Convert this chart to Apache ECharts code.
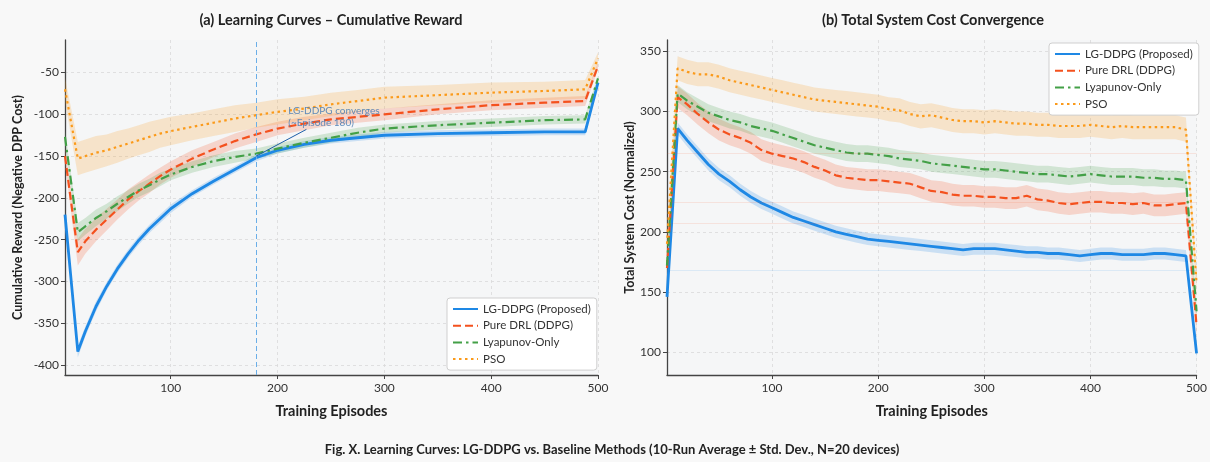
<!DOCTYPE html>
<html>
<head>
<meta charset="utf-8">
<script src="https://cdn.jsdelivr.net/npm/echarts@6/dist/echarts.min.js"></script>
<style>
  html, body { margin: 0; padding: 0; background: #f8f8f8; }
  #main { width: 1210px; height: 462px; }
</style>
</head>
<body>
<div id="main"></div>
<script>
// method names (legend order)
const methods = ["LG-DDPG (Proposed)", "Pure DRL (DDPG)", "Lyapunov-Only", "PSO"];

// (a) cumulative reward, episodes
const rewardEpisodes = [1, 13, 20, 30, 40, 50, 60, 70, 80, 90, 100, 120, 140, 160, 180, 200, 225, 250, 275, 300, 350, 400, 450, 488, 500];
const rewardLG   = [-220, -384, -360, -330, -306, -285, -267, -251, -237, -225, -213, -195, -180, -166, -152, -143, -136, -131, -128, -125, -123, -122, -121, -121, -62];
const rewardDRL  = [-150, -265, -252, -238, -226, -214, -202, -192, -183, -174, -166, -153, -142, -132, -124, -117, -111, -106, -103, -100, -94, -89, -86, -84, -42];
const rewardLyap = [-127, -241, -234, -224, -216, -207, -199, -191, -185, -178, -172, -163, -156, -151, -147, -141, -134, -128, -122, -117, -113, -110, -107, -106, -57];
const rewardPSO  = [-70, -153, -150, -146, -143, -139, -135, -131, -127, -123, -120, -115, -110, -105, -101, -97, -93, -88, -84, -80, -77, -74, -72, -70, -33];
// std dev of the 10 runs
const rewardStdLG   = [5, 7, 6, 6, 5, 5, 5, 5, 5, 5, 5, 4, 4, 4, 4, 4, 4, 4, 4, 4, 4, 4, 4, 4, 3];
const rewardStdDRL  = [10, 16, 15, 14, 13, 12, 12, 11, 11, 10, 10, 10, 9, 9, 9, 8, 8, 7, 7, 7, 6, 6, 6, 6, 4];
const rewardStdLyap = [8, 11, 10, 10, 9, 9, 8, 8, 8, 8, 7, 7, 7, 7, 6, 6, 6, 6, 6, 5, 5, 5, 5, 5, 3];
const rewardStdPSO  = [14, 20, 20, 20, 19, 19, 18, 18, 18, 17, 17, 16, 16, 16, 15, 15, 14, 14, 13, 13, 12, 12, 11, 11, 7];

// (b) total system cost, episodes
const costEpisodes = [1, 11, 20, 30, 40, 50, 60, 70, 80, 90, 100, 110, 120, 130, 140, 150, 160, 170, 180, 190, 200,
  210, 220, 230, 240, 250, 260, 270, 280, 290, 300, 310, 320, 330, 340, 350, 360, 370, 380, 390, 400,
  410, 420, 430, 440, 450, 460, 470, 480, 490, 500];
const costLG   = [146, 286, 276, 266, 256, 248, 242, 235, 229, 224, 220, 216, 212, 209, 206, 203, 200, 198, 196, 194, 193,
  192, 191, 190, 189, 188, 187, 186, 185, 186, 186, 186, 185, 184, 183, 183, 182, 182, 181, 180, 181,
  182, 182, 181, 181, 181, 182, 182, 181, 180, 99];
const costDRL  = [170, 312, 306, 298, 291, 285, 281, 278, 274, 268, 265, 263, 261, 258, 254, 251, 247, 245, 244, 243, 243,
  242, 241, 240, 237, 234, 233, 231, 230, 230, 229, 229, 228, 228, 230, 227, 226, 224, 223, 224, 225,
  225, 224, 224, 223, 224, 222, 222, 223, 224, 122];
const costLyap = [172, 315, 309, 304, 299, 296, 293, 291, 288, 286, 284, 281, 278, 275, 272, 270, 268, 266, 265, 265, 264,
  263, 261, 260, 259, 257, 256, 255, 254, 253, 252, 252, 251, 250, 249, 248, 248, 247, 246, 247, 248,
  247, 246, 246, 246, 245, 245, 244, 244, 243, 134];
const costPSO  = [190, 336, 333, 331, 331, 329, 326, 324, 322, 320, 318, 316, 314, 312, 310, 309, 308, 307, 306, 305, 304,
  302, 301, 298, 296, 297, 295, 293, 292, 292, 291, 292, 291, 290, 290, 289, 289, 288, 288, 288, 289,
  288, 287, 288, 287, 287, 287, 287, 287, 285, 157];
const costStd = [5, 9, 7, 10]; // per method, roughly constant

// faint reference levels in (b)
const costRefLevels = [265, 225, 207, 168];

// axis ticks
const xTicks = [100, 200, 300, 400, 500];
const rewardTicks = [-400, -350, -300, -250, -200, -150, -100, -50];
const costTicks = [100, 150, 200, 250, 300, 350];

const convergeEpisode = 180;

const colors = ["#1E88E5", "#F4511E", "#43A047", "#FB9A1A"];
const lineTypes = ["solid", [8, 4], [9, 4, 2.5, 4], [2.5, 3.5]];
const lineWidths = [2.8, 2.2, 2.2, 2.2];
const FONT = "Lato";

const chart = echarts.init(document.getElementById("main"));

// mean ± std band drawn as one polygon through the axis scales
function band(idx, xs, mean, std, i) {
  const sd = (k) => Array.isArray(std) ? std[k] : std;
  const upper = xs.map((x, k) => [x, mean[k] + sd(k)]);
  const lower = xs.map((x, k) => [x, mean[k] - sd(k)]).reverse();
  return {
    type: "custom", xAxisIndex: idx, yAxisIndex: idx, silent: true, z: 1,
    data: [[xs[0], mean[0]]], encode: { x: 0, y: 1 }, clip: true,
    renderItem: (params, api) => ({
      type: "polygon",
      shape: { points: upper.concat(lower).map(p => api.coord(p)) },
      style: { fill: echarts.color.modifyAlpha(colors[i], 0.2) }
    })
  };
}

function mainLine(idx, xs, mean, i, extra) {
  return Object.assign({
    name: methods[i], type: "line", xAxisIndex: idx, yAxisIndex: idx,
    data: xs.map((x, k) => [x, mean[k]]),
    symbol: "none", z: 3,
    itemStyle: { color: colors[i] },
    lineStyle: { color: colors[i], width: lineWidths[i], type: lineTypes[i] }
  }, extra || {});
}

const rewardMeans = [rewardLG, rewardDRL, rewardLyap, rewardPSO];
const rewardStds = [rewardStdLG, rewardStdDRL, rewardStdLyap, rewardStdPSO];
const costMeans = [costLG, costDRL, costLyap, costPSO];

const series = [];
rewardMeans.forEach((m, i) => series.push(band(0, rewardEpisodes, m, rewardStds[i], i)));
costMeans.forEach((m, i) => series.push(band(1, costEpisodes, m, costStd[i], i)));

rewardMeans.forEach((m, i) => {
  let extra = null;
  if (i === 0) {
    extra = {
      markLine: {
        silent: true, symbol: ["none", "none"], label: { show: false },
        data: [
          { xAxis: convergeEpisode, lineStyle: { color: "#6aaee8", type: [5, 3], width: 1 } },
          [
            { coord: [227, -118], lineStyle: { color: "#1f5fa8", type: "solid", width: 1 } },
            { coord: [convergeEpisode, -150] }
          ]
        ]
      }
    };
  }
  series.push(mainLine(0, rewardEpisodes, m, i, extra));
});
costMeans.forEach((m, i) => {
  let extra = null;
  if (i === 0 || i === 1) {
    const lv = i === 0 ? costRefLevels.slice(3) : costRefLevels.slice(0, 3);
    extra = {
      markLine: {
        silent: true, symbol: ["none", "none"], label: { show: false },
        lineStyle: { color: colors[i], opacity: 0.12, type: "solid", width: 1 },
        data: lv.map(v => ({ yAxis: v }))
      }
    };
  }
  series.push(mainLine(1, costEpisodes, m, i, extra));
});

const axisLabelStyle = { color: "#333", fontSize: 12, fontFamily: FONT };
const nameStyle = { color: "#222", fontSize: 12.5, fontWeight: "bold", fontFamily: FONT };
const splitStyle = { show: true, lineStyle: { color: "#dadada", type: [3, 3], width: 0.8 } };

function xAxis(gi) {
  return {
    type: "value", gridIndex: gi, min: 1, max: 500,
    name: "Training Episodes", nameLocation: "middle", nameGap: 29,
    nameTextStyle: Object.assign({}, nameStyle, { fontSize: 14.5 }),
    axisLine: { onZero: false, lineStyle: { color: "#444", width: 1.3 } },
    axisTick: { show: true, length: 4, lineStyle: { color: "#444" }, customValues: xTicks },
    axisLabel: Object.assign({ customValues: xTicks, margin: 7 }, axisLabelStyle),
    splitLine: splitStyle
  };
}
function yAxis(gi, min, max, ticks, name, gap) {
  return {
    type: "value", gridIndex: gi, min: min, max: max,
    name: name, nameLocation: "middle", nameGap: gap, nameTextStyle: nameStyle,
    axisLine: { show: true, onZero: false, lineStyle: { color: "#444", width: 1.3 } },
    axisTick: { show: true, length: 4, lineStyle: { color: "#444" }, customValues: ticks },
    axisLabel: Object.assign({ customValues: ticks, margin: 6 }, axisLabelStyle),
    splitLine: splitStyle
  };
}

const legendBase = {
  data: methods, orient: "vertical", itemWidth: 25, itemHeight: 12, itemGap: 4.7,
  backgroundColor: "#ffffff", borderColor: "#cfcfcf", borderWidth: 1, borderRadius: 3,
  padding: [5, 6, 5, 5], selectedMode: false,
  itemStyle: { opacity: 0 },
  textStyle: { color: "#333", fontSize: 11.5, fontFamily: FONT }
};

chart.setOption({
  backgroundColor: "#f8f8f8",
  animation: false,
  grid: [
    { left: 65, right: 612, top: 40, bottom: 87, show: true, backgroundColor: "#f5f6f7", borderWidth: 0 },
    { left: 667, right: 12, top: 40, bottom: 87, show: true, backgroundColor: "#f5f6f7", borderWidth: 0 }
  ],
  xAxis: [xAxis(0), xAxis(1)],
  yAxis: [
    yAxis(0, -412, -11, rewardTicks, "Cumulative Reward (Negative DPP Cost)", 41),
    yAxis(1, 81, 359.5, costTicks, "Total System Cost (Normalized)", 29)
  ],
  legend: [
    Object.assign({ left: 447, top: 298 }, legendBase),
    Object.assign({ left: 1049, top: 43 }, legendBase)
  ],
  series: series
});

// titles, caption and the convergence note
const note = chart.convertToPixel({ gridIndex: 0 }, [210, -88]);
chart.setOption({
  graphic: [
    { type: "text", style: { text: "(a) Learning Curves \u2013 Cumulative Reward", x: 331, y: 20, textAlign: "center", textVerticalAlign: "middle", font: "bold 14.5px " + FONT, fill: "#222" } },
    { type: "text", style: { text: "(b) Total System Cost Convergence", x: 933, y: 20, textAlign: "center", textVerticalAlign: "middle", font: "bold 14.5px " + FONT, fill: "#222" } },
    { type: "text", style: { text: "Fig. X. Learning Curves: LG-DDPG vs. Baseline Methods (10-Run Average \u00b1 Std. Dev., N=20 devices)", x: 612, y: 450, textAlign: "center", textVerticalAlign: "middle", font: "bold 13px " + FONT, fill: "#222" } },
    { type: "text", z: 10, style: { text: "LG-DDPG converges\n(~Episode 180)", x: note[0], y: note[1], textAlign: "left", textVerticalAlign: "top", font: "10px " + FONT, fill: "#4f7fb5", lineHeight: 12, opacity: 0.9 } }
  ]
});
</script>
</body>
</html>
